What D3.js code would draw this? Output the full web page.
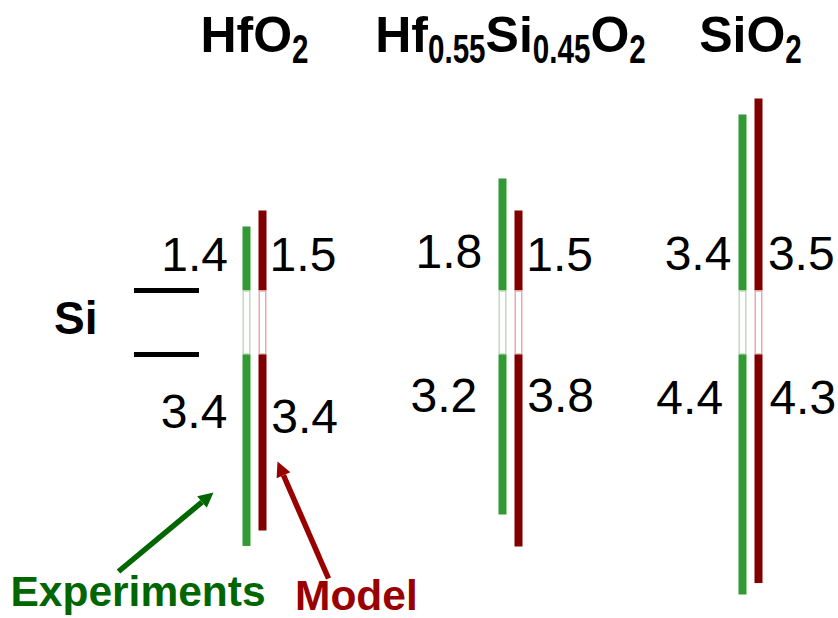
<!DOCTYPE html>
<html>
<head>
<meta charset="utf-8">
<script src="https://cdn.jsdelivr.net/npm/d3@7"></script>
<style>
  html, body { margin: 0; padding: 0; background: #fff; }
  svg { display: block; }
  text { font-family: "Liberation Sans", Arial, sans-serif; }
</style>
</head>
<body>
<svg id="chart" width="838" height="618"></svg>
<script>
// ---------------- DATA ----------------
const materials = ["HfO2", "Hf0.55Si0.45O2", "SiO2"];
// title segments: [text, isSubscript]
const titleHfO2 = [["HfO", false], ["2", true]];
const titleHfSiO = [["Hf", false], ["0.55", true], ["Si", false], ["0.45", true], ["O", false], ["2", true]];
const titleSiO2 = [["SiO", false], ["2", true]];
const titles = [titleHfO2, titleHfSiO, titleSiO2];

const series = ["Experiments", "Model"];
// band offset values printed on the chart (eV)
const cboExpLabel   = [1.4, 1.8, 3.4];
const cboModelLabel = [1.5, 1.5, 3.5];
const vboExpLabel   = [3.4, 3.2, 4.4];
const vboModelLabel = [3.4, 3.8, 4.3];
// schematic (drawn) band-edge extents, in eV on the drawing's scale
const siGap        = 1.12;
const cbDrawnExp   = [1.12, 1.96, 3.08];
const cbDrawnModel = [1.40, 1.40, 3.36];
const vbDrawnExp   = [3.35, 2.80, 4.20];
const vbDrawnModel = [3.08, 3.36, 4.00];

// ---------------- LAYOUT ----------------
const colors = {
  exp: "#339933", model: "#800000",
  expFade: "#b9dcb9", modelFade: "#e3aaaa",
  expText: "#006600", modelText: "#990000"
};
const labelLayout = {
  cbLeftDx:  [-26.5, -28.3, -19.1], cbLeftY:  [270.7, 268.3, 270.2],
  cbRightDx: [15.1, 15.8, 17.4],    cbRightY: [270.7, 270.7, 270.2],
  vbLeftDx:  [-27.1, -33.3, -27.4], vbLeftY:  [428.3, 411.7, 413.5],
  vbRightDx: [16.7, 16.7, 18.9],    vbRightY: [433.3, 411.7, 413.5]
};

const svg = d3.select("#chart");

const x = d3.scaleOrdinal().domain(materials).range([254.5, 510.5, 750.5]);
const xs = d3.scaleBand().domain(series).range([-12, 12]).paddingInner(0.5).paddingOuter(0);
const y = d3.scaleLinear().domain([0, -siGap]).range([290.5, 354.5]);

// ---------------- TITLES ----------------
titles.forEach((segs, i) => {
  const g = svg.append("g");
  let cursor = 0;
  const subScale = 0.74;
  segs.forEach(([t, sub]) => {
    if (!sub) {
      const el = g.append("text")
        .attr("x", cursor).attr("y", 51.5)
        .style("font-size", "50px").style("font-weight", "bold")
        .attr("fill", "#000").text(t);
      cursor += el.node().getComputedTextLength();
    } else {
      const el = g.append("text")
        .attr("transform", `translate(${cursor},63) scale(${subScale},1)`)
        .style("font-size", "40px").style("font-weight", "bold")
        .attr("fill", "#000").text(t);
      cursor += el.node().getComputedTextLength() * subScale;
    }
  });
  g.attr("transform", `translate(${x(materials[i]) - cursor / 2},0)`);
});

// ---------------- Si reference ----------------
svg.append("text").attr("x", 54).attr("y", 334)
  .style("font-size", "46px").style("font-weight", "bold").text("Si");
[0, -siGap].forEach(e => {
  svg.append("line").attr("x1", 134).attr("x2", 199)
    .attr("y1", y(e)).attr("y2", y(e))
    .attr("stroke", "#000").attr("stroke-width", 5);
});

// ---------------- BARS ----------------
const barW = xs.bandwidth();
materials.forEach((m, i) => {
  const defs = [
    { s: "Experiments", cb: cbDrawnExp[i], vb: vbDrawnExp[i], c: colors.exp, f: colors.expFade },
    { s: "Model", cb: cbDrawnModel[i], vb: vbDrawnModel[i], c: colors.model, f: colors.modelFade }
  ];
  defs.forEach(d => {
    const bx = x(m) + xs(d.s);
    svg.append("rect").attr("x", bx).attr("y", y(d.cb))
      .attr("width", barW).attr("height", y(0) - y(d.cb)).attr("fill", d.c);
    svg.append("rect").attr("x", bx + 0.75).attr("y", y(0) + 0.5)
      .attr("width", barW - 1.5).attr("height", y(-siGap) - y(0) - 1)
      .attr("fill", "#fff").attr("stroke", d.f).attr("stroke-width", 1.5);
    svg.append("rect").attr("x", bx).attr("y", y(-siGap))
      .attr("width", barW).attr("height", y(-siGap - d.vb) - y(-siGap)).attr("fill", d.c);
  });
});

// ---------------- LABELS ----------------
const fmt = d3.format(".1f");
materials.forEach((m, i) => {
  const c = x(m);
  const L = labelLayout;
  const lab = (v, dx, yy, anchor) => svg.append("text")
    .attr("x", c + dx).attr("y", yy).attr("text-anchor", anchor)
    .style("font-size", "48px").attr("fill", "#000").text(fmt(v));
  lab(cboExpLabel[i], L.cbLeftDx[i], L.cbLeftY[i], "end");
  lab(cboModelLabel[i], L.cbRightDx[i], L.cbRightY[i], "start");
  lab(vboExpLabel[i], L.vbLeftDx[i], L.vbLeftY[i], "end");
  lab(vboModelLabel[i], L.vbRightDx[i], L.vbRightY[i], "start");
});

// ---------------- ANNOTATIONS ----------------
function arrow(x1, y1, x2, y2, color) {
  const ang = Math.atan2(y2 - y1, x2 - x1);
  const headL = 15, headW = 7.5;
  const bx = x2 - headL * Math.cos(ang), by = y2 - headL * Math.sin(ang);
  svg.append("line").attr("x1", x1).attr("y1", y1).attr("x2", bx).attr("y2", by)
    .attr("stroke", color).attr("stroke-width", 5.5);
  const px = -Math.sin(ang) * headW, py = Math.cos(ang) * headW;
  svg.append("path")
    .attr("d", `M${x2},${y2}L${bx + px},${by + py}L${bx - px},${by - py}Z`)
    .attr("fill", color);
}
arrow(118.5, 571.5, 213.5, 492.5, colors.expText);
arrow(328.5, 578.5, 277.5, 461.5, colors.modelText);

svg.append("text").attr("x", 10.5).attr("y", 606)
  .style("font-size", "42.5px").style("font-weight", "bold")
  .attr("fill", colors.expText).text(series[0]);
svg.append("text").attr("x", 295).attr("y", 610)
  .style("font-size", "42.5px").style("font-weight", "bold")
  .attr("fill", colors.modelText).text(series[1]);
</script>
</body>
</html>
